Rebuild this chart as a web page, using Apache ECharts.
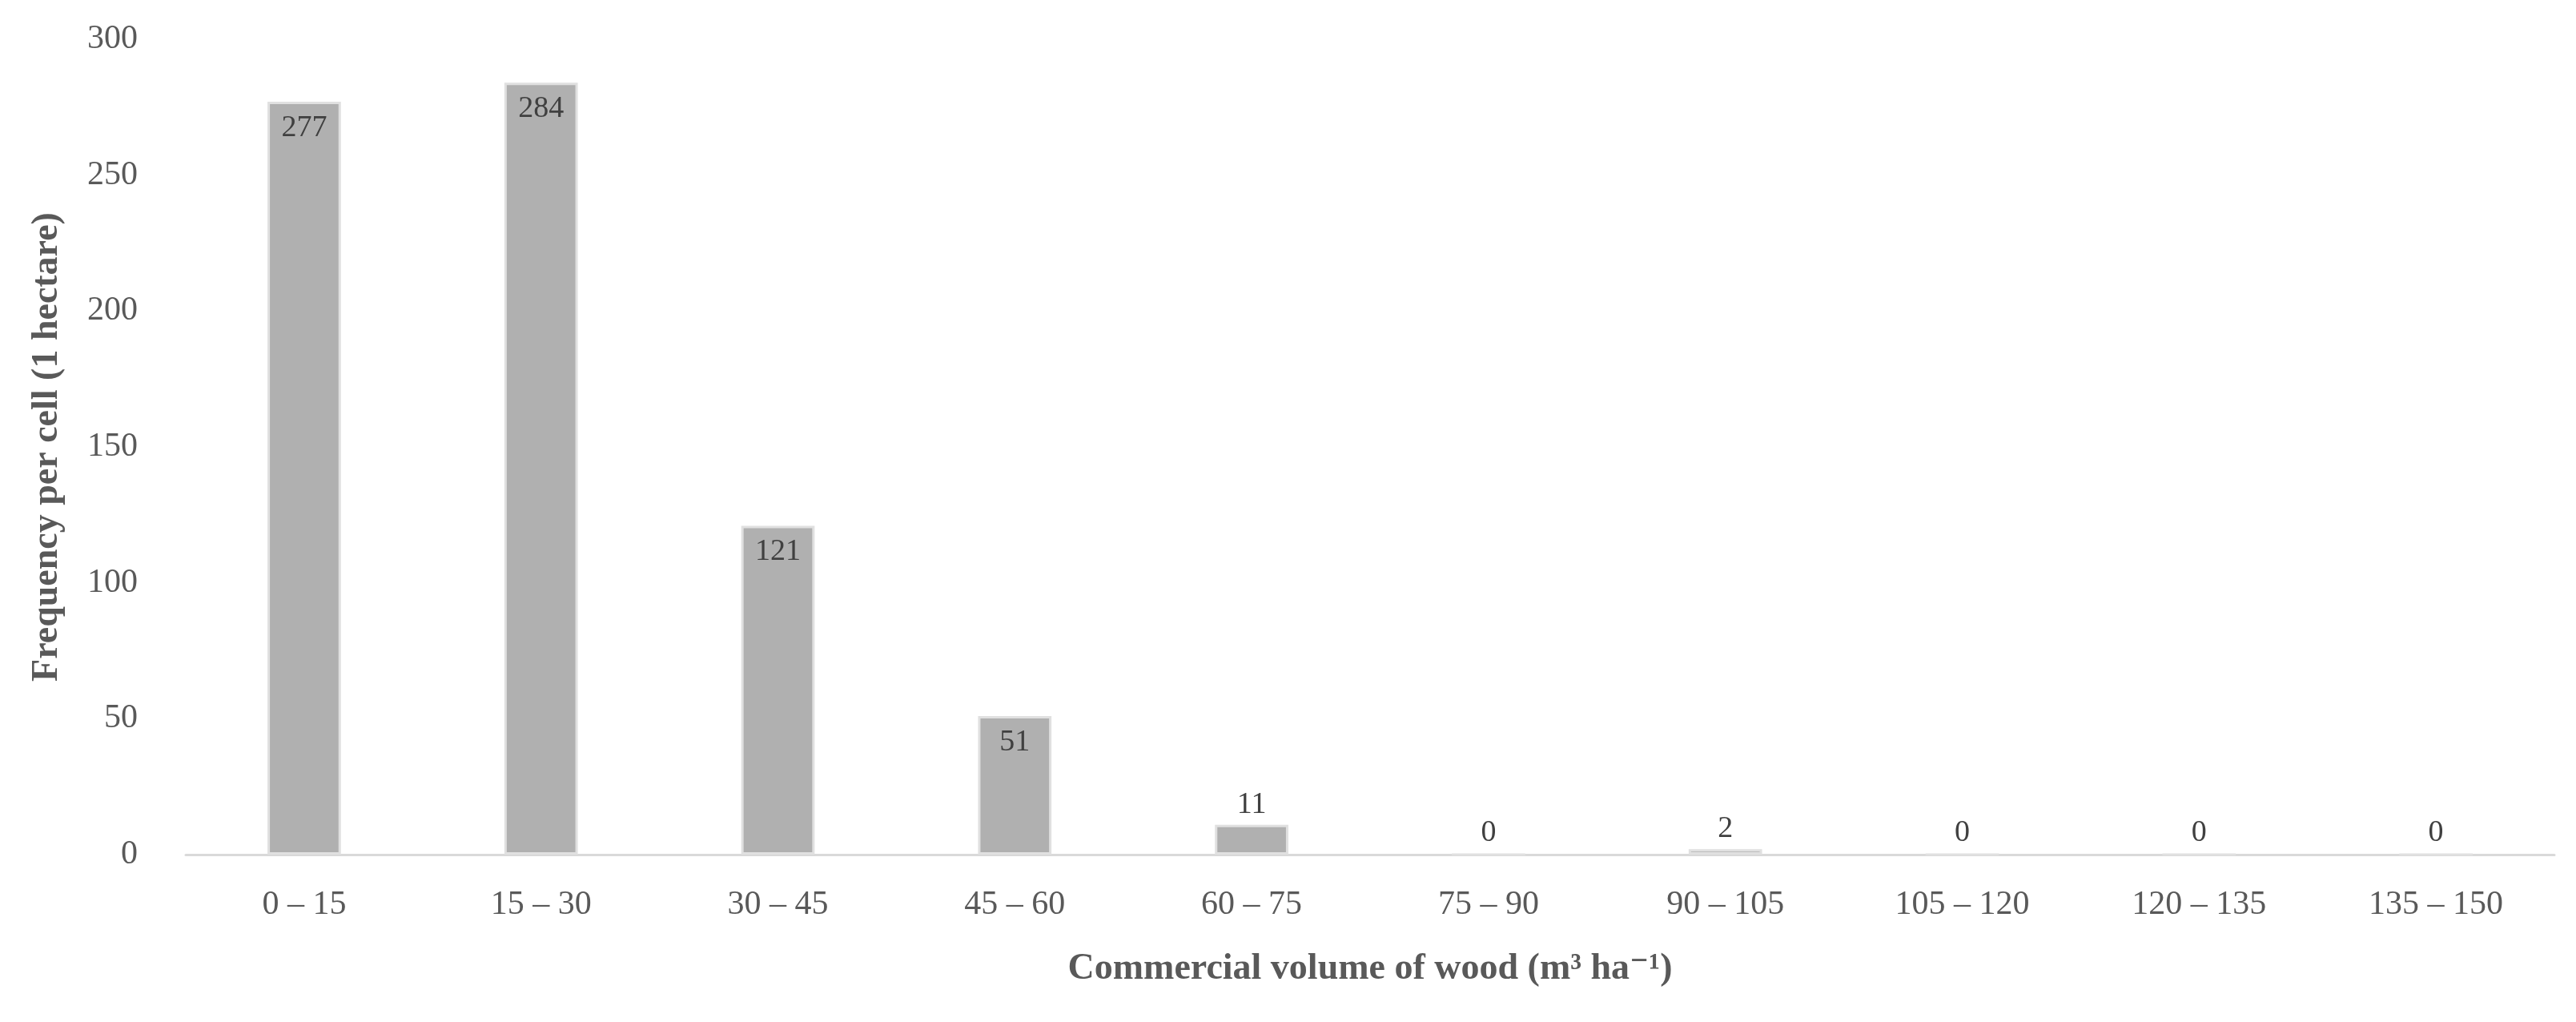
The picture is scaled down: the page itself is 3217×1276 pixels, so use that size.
<!DOCTYPE html>
<html><head><meta charset="utf-8">
<script src="https://cdn.jsdelivr.net/npm/echarts@6/dist/echarts.min.js"></script>
<style>html,body{margin:0;padding:0;background:#fff}#c{width:3217px;height:1276px}</style>
</head><body><div id="c"></div>
<script>
const categories = ['0 – 15','15 – 30','30 – 45','45 – 60','60 – 75','75 – 90','90 – 105','105 – 120','120 – 135','135 – 150'];
const frequency = [277, 284, 121, 51, 11, 0, 2, 0, 0, 0];
const yTicks = [0, 50, 100, 150, 200, 250, 300];
const font = '"Liberation Serif","DejaVu Serif",serif';
const chart = echarts.init(document.getElementById('c'));
chart.setOption({
  animation: false,
  grid: {left: 232, right: 27, top: 49, bottom: 209},
  xAxis: {
    type: 'category', data: categories,
    name: 'Commercial volume of wood (m³ ha⁻¹)', nameLocation: 'middle', nameGap: 120,
    nameTextStyle: {fontFamily: font, fontSize: 46, fontWeight: 'bold', color: '#595959'},
    axisLine: {lineStyle: {color: '#d9d9d9', width: 3}},
    axisTick: {show: false},
    axisLabel: {fontFamily: font, fontSize: 42, color: '#595959', margin: 42}
  },
  yAxis: {
    type: 'value', min: yTicks[0], max: yTicks[yTicks.length-1], interval: 50,
    name: 'Frequency per cell (1 hectare)', nameLocation: 'middle', nameGap: 150, nameRotate: 90,
    nameTextStyle: {fontFamily: font, fontSize: 46, fontWeight: 'bold', color: '#595959'},
    axisLine: {show: false}, axisTick: {show: false}, splitLine: {show: false},
    axisLabel: {fontFamily: font, fontSize: 42, color: '#595959', margin: 60}
  },
  series: [{
    type: 'bar', barWidth: '31%',
    data: frequency.map(v => ({value: v, label: {position: v >= 50 ? 'insideTop' : 'top', distance: v >= 50 ? 14 : 6}})),
    itemStyle: {color: '#b0b0b0', borderColor: '#e0e0e0', borderWidth: 3},
    label: {show: true, fontFamily: font, fontSize: 38, color: '#404040'}
  }]
});
</script></body></html>
